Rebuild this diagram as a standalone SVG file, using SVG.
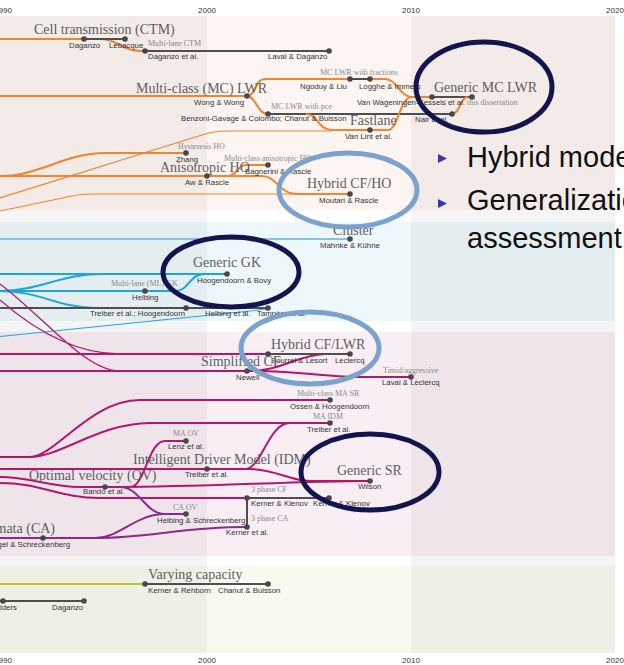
<svg xmlns="http://www.w3.org/2000/svg" width="624" height="665" viewBox="0 0 624 665">
<style>
.lbl{font-family:"Liberation Sans",Arial,sans-serif;font-size:7.8px;fill:#333}
.ttl{font-family:"Liberation Serif","Times New Roman",serif;font-size:14px;fill:#5e5e5e}
.sub{font-family:"Liberation Serif","Times New Roman",serif;font-size:8px;fill:#8a8a8a}
.ax{font-family:"Liberation Sans",Arial,sans-serif;font-size:8px;fill:#333;text-anchor:middle}
.dot{fill:#474747}
.o{stroke:#f0852d;fill:none;stroke-width:2}
.ot{stroke:#f0852d;fill:none;stroke-width:1.2}
.g{stroke:#4f4f4f;fill:none;stroke-width:2}
.b{stroke:#1ea6db;fill:none;stroke-width:2}
.bl{stroke:#80c6de;fill:none;stroke-width:2}
.bt{stroke:#1ea6db;fill:none;stroke-width:1.2}
.m{stroke:#b3176a;fill:none;stroke-width:2}
.mt{stroke:#b3176a;fill:none;stroke-width:1.3}
.p{stroke:#8c2a8c;fill:none;stroke-width:2}
.y{stroke:#b4c91c;fill:none;stroke-width:2}
.dk{fill:none;stroke:#14144f;stroke-width:5}
.lb{fill:none;stroke:#7aa2cd;stroke-width:5}
.slide{font-family:"Liberation Sans",Arial,sans-serif;font-size:29px;fill:#111}
</style>
<g id="background">
<rect x="0" y="0" width="624" height="665" fill="#fff"/>
<rect x="0" y="16" width="615" height="194" fill="#fcf5f1"/>
<rect x="0" y="222" width="615" height="99" fill="#eef8fa"/>
<rect x="0" y="332" width="615" height="224" fill="#f8eef4"/>
<rect x="0" y="566" width="615" height="87" fill="#f8faef"/>
<rect x="0" y="16" width="207" height="637" fill="#000" opacity="0.04"/>
<rect x="411" y="16" width="204" height="637" fill="#000" opacity="0.04"/>
<text class="ax" x="3" y="12.5">1990</text>
<text class="ax" x="207" y="12.5">2000</text>
<text class="ax" x="411" y="12.5">2010</text>
<text class="ax" x="615" y="12.5">2020</text>
<text class="ax" x="3" y="663">1990</text>
<text class="ax" x="207" y="663">2000</text>
<text class="ax" x="411" y="663">2010</text>
<text class="ax" x="615" y="663">2020</text>
</g>
<g id="connectors">
<path class="o" d="M0,39 H100 C118,39 122,51 140,51 H145"/>
<path class="o" d="M0,39 H84" stroke-width="3.5"/>
<path class="g" d="M84,39 H125 M145,51 H329"/>
<path class="o" d="M0,96 H247 M247,96 C256,96 255,79 265,79 H350 M370,79 H385 C397,79 400,97 412,97 H432"/>
<path class="g" d="M350,79 H370 M432,97 H472"/>
<path class="o" d="M247,96 C256,96 257,114 268,114"/>
<path class="g" d="M268,114 H452"/>
<path class="o" d="M306,114 C318,114 318,130 332,130 H370 M370,130 H388 C398,130 400,97 412,97 M452,114 C460,114 460,97 468,97"/>
<path class="ot" d="M0,198 L205,134 Q215,131 228,131 H332"/>
<path class="o" d="M0,176 H207" stroke-width="2.5"/>
<path class="o" d="M207,176 H262 C276,176 280,194 296,194 H350 M228,176 C237,176 237,165 246,165 H268 M0,176 C40,176 65,153 105,153 H186"/>
<path class="ot" d="M0,211 L72,196 Q80,194 92,194 H300"/>
<path class="bl" d="M0,239 H350"/>
<path class="b" d="M0,274 H227 M0,291 C40,291 60,274 100,274 M0,291 H176 C188,291 190,274 204,274 M0,291 C40,291 55,307 95,308"/>
<path class="g" d="M0,308 H268"/>
<path class="bt" d="M-5,337 L255,310.5 Q262,309 268,309"/>
<path class="mt" d="M0,300 C40,335 80,354 120,354 M0,284 C45,318 85,371 120,371"/>
<path class="m" d="M0,354 H268 M0,371 H247 M250,371 C280,371 298,355 325,354 M247,371 C300,371 330,377 360,377 H411"/>
<path class="g" d="M268,354 H350"/>
<path class="m" d="M0,457 H30 C55,457 90,400 140,400 H330 M30,457 C60,457 100,423 150,423 H330 M245,469 C262,469 268,423 290,423"/>
<path class="m" d="M0,469 H250 C275,469 290,481 310,481 H370"/>
<path class="m" d="M0,477 C30,477 50,487 80,487 H130 C145,487 148,441 165,441 H186 M120,487 C200,487 300,481 370,481"/>
<path class="m" d="M0,483 C40,483 60,498 100,498 H247"/>
<path class="g" d="M247,498 H329 M247,498 V527"/>
<path class="p" d="M120,487 C140,487 145,514 165,514 H186 M0,538 H95 C120,538 135,514 165,514 M95,538 C150,538 180,527 247,527"/>
<path class="y" d="M0,584 H145"/>
<path class="g" d="M145,584 H268 M0,601 H84"/>
</g>
<g id="ctm"><text class="ttl" x="34" y="34">Cell transmission (CTM)</text></g>
<g id="n-daganzo94"><circle class="dot" cx="84" cy="39" r="2.8"/><text class="lbl" x="69" y="47.5">Daganzo</text></g>
<g id="n-lebacque"><circle class="dot" cx="125" cy="39" r="2.8"/><text class="lbl" x="109" y="47.5">Lebacque</text></g>
<g id="n-daganzo-etal"><circle class="dot" cx="145" cy="51" r="2.8"/><text class="sub" x="148" y="45.5">Multi-lane CTM</text><text class="lbl" x="148" y="59">Daganzo et al.</text></g>
<g id="n-laval-daganzo"><circle class="dot" cx="329" cy="51" r="2.8"/><text class="lbl" x="268" y="59">Laval &amp; Daganzo</text></g>
<g id="mclwr"><text class="ttl" x="136" y="92.5">Multi-class (MC) LWR</text></g>
<g id="n-wong"><circle class="dot" cx="247" cy="96" r="2.8"/><text class="lbl" x="194" y="105">Wong &amp; Wong</text></g>
<g id="n-ngoduy"><circle class="dot" cx="350" cy="79" r="2.8"/><text class="sub" x="320" y="74.5">MC LWR with fractions</text><text class="lbl" x="300" y="89">Ngoduy &amp; Liu</text></g>
<g id="n-logghe"><circle class="dot" cx="370" cy="79" r="2.8"/><text class="lbl" x="359" y="89">Logghe &amp; Immers</text></g>
<g id="n-vwk"><circle class="dot" cx="432" cy="97" r="2.8"/><text class="lbl" x="357" y="105">Van Wageningen-Kessels et al.</text></g>
<g id="n-diss"><circle class="dot" cx="472" cy="97" r="2.8"/><text class="sub" x="467" y="105">this dissertation</text></g>
<g id="n-benzoni"><circle class="dot" cx="268" cy="114" r="2.8"/><text class="sub" x="271" y="108.5">MC LWR with pce</text><text class="lbl" x="181" y="121">Benzoni-Gavage &amp; Colombo; Chanut &amp; Buisson</text></g>
<g id="n-nair"><circle class="dot" cx="452" cy="114" r="2.8"/><text class="lbl" x="415" y="122">Nair et al.</text></g>
<g id="n-vanlint"><circle class="dot" cx="370" cy="130" r="2.8"/><text class="ttl" x="350" y="125">Fastlane</text><text class="lbl" x="345" y="139">Van Lint et al.</text></g>
<g id="generic-mclwr"><text class="ttl" x="434" y="91.5">Generic MC LWR</text></g>
<g id="n-zhang"><circle class="dot" cx="186" cy="153" r="2.8"/><text class="sub" x="178" y="148.5">Hysteresis HO</text><text class="lbl" x="176" y="162">Zhang</text></g>
<g id="aniso"><text class="ttl" x="160" y="172">Anisotropic HO</text></g>
<g id="n-aw"><circle class="dot" cx="207" cy="176" r="2.8"/><text class="lbl" x="185" y="185">Aw &amp; Rascle</text></g>
<g id="n-bagnerini"><circle class="dot" cx="268" cy="165" r="2.8"/><text class="sub" x="224" y="161">Multi-class anisotropic HO</text><text class="lbl" x="245" y="174">Bagnerini &amp; Rascle</text></g>
<g id="n-moutari"><circle class="dot" cx="350" cy="194" r="2.8"/><text class="ttl" x="307" y="188">Hybrid CF/HO</text><text class="lbl" x="319" y="203">Moutari &amp; Rascle</text></g>
<g id="n-mahnke"><circle class="dot" cx="350" cy="239" r="2.8"/><text class="ttl" x="333" y="235">Cluster</text><text class="lbl" x="320" y="248">Mahnke &amp; Kühne</text></g>
<g id="n-hoogendoorn-bovy"><circle class="dot" cx="227" cy="274" r="2.8"/><text class="ttl" x="193" y="267">Generic GK</text><text class="lbl" x="197" y="283">Hoogendoorn &amp; Bovy</text></g>
<g id="n-helbing"><circle class="dot" cx="145" cy="291" r="2.8"/><text class="sub" x="111" y="286">Multi-lane (ML) GK</text><text class="lbl" x="132" y="300">Helbing</text></g>
<g id="n-treiber-hoog"><circle class="dot" cx="186" cy="308" r="2.8"/><text class="lbl" x="90" y="316">Treiber et al.; Hoogendoorn</text></g>
<g id="n-helbing-tampere"><circle class="dot" cx="268" cy="308" r="2.8"/><text class="lbl" x="205" y="316">Helbing et al.</text><text class="lbl" x="257" y="316">Tampère et al.</text></g>
<g id="n-bourrel"><circle class="dot" cx="268" cy="354" r="2.8"/><text class="ttl" x="271" y="349">Hybrid CF/LWR</text><text class="lbl" x="271" y="363">Bourrel &amp; Lesort</text></g>
<g id="n-leclercq"><circle class="dot" cx="350" cy="354" r="2.8"/><text class="lbl" x="335" y="363">Leclercq</text></g>
<g id="n-newell"><circle class="dot" cx="247" cy="371" r="2.8"/><text class="ttl" x="201" y="366">Simplified CF</text><text class="lbl" x="236" y="380">Newell</text></g>
<g id="n-laval-leclercq"><circle class="dot" cx="411" cy="377" r="2.8"/><text class="sub" x="383" y="372.5">Timid/aggressive</text><text class="lbl" x="382" y="385">Laval &amp; Leclercq</text></g>
<g id="n-ossen"><circle class="dot" cx="330" cy="400" r="2.8"/><text class="sub" x="297" y="396">Multi-class MA SR</text><text class="lbl" x="290" y="409">Ossen &amp; Hoogendoorn</text></g>
<g id="n-treiber-maidm"><circle class="dot" cx="330" cy="423" r="2.8"/><text class="sub" x="313" y="419">MA IDM</text><text class="lbl" x="307" y="432">Treiber et al.</text></g>
<g id="n-lenz"><circle class="dot" cx="186" cy="441" r="2.8"/><text class="sub" x="173" y="436">MA OV</text><text class="lbl" x="168" y="449">Lenz et al.</text></g>
<g id="n-treiber-idm"><circle class="dot" cx="207" cy="469" r="2.8"/><text class="ttl" x="133" y="464">Intelligent Driver Model (IDM)</text><text class="lbl" x="185" y="477">Treiber et al.</text></g>
<g id="n-bando"><circle class="dot" cx="105" cy="487" r="2.8"/><text class="ttl" x="29" y="480">Optimal velocity (OV)</text><text class="lbl" x="83" y="494">Bando et al.</text></g>
<g id="n-wilson"><circle class="dot" cx="370" cy="481" r="2.8"/><text class="ttl" x="337" y="475">Generic SR</text><text class="lbl" x="358" y="489">Wilson</text></g>
<g id="n-kerner-klenov"><circle class="dot" cx="247" cy="498" r="2.8"/><text class="sub" x="251" y="492">3 phase CF</text><text class="lbl" x="251" y="506">Kerner &amp; Klenov</text></g>
<g id="n-kerner-klenov2"><circle class="dot" cx="329" cy="498" r="2.8"/><text class="lbl" x="313" y="506">Kerner &amp; Klenov</text></g>
<g id="n-kerner-etal"><circle class="dot" cx="247" cy="527" r="2.8"/><text class="sub" x="251" y="521">3 phase CA</text><text class="lbl" x="226" y="535">Kerner et al.</text></g>
<g id="n-helbing-schreck"><circle class="dot" cx="186" cy="514" r="2.8"/><text class="sub" x="173" y="510">CA OV</text><text class="lbl" x="157" y="523">Helbing &amp; Schreckenberg</text></g>
<g id="n-nagel"><circle class="dot" cx="43" cy="538" r="2.8"/><text class="ttl" x="55" y="533" text-anchor="end">Cellular automata (CA)</text><text class="lbl" x="70" y="547" text-anchor="end">Nagel &amp; Schreckenberg</text></g>
<g id="n-kerner-rehborn"><circle class="dot" cx="145" cy="584" r="2.8"/><text class="ttl" x="148" y="579">Varying capacity</text><text class="lbl" x="148" y="593">Kerner &amp; Rehborn</text></g>
<g id="n-chanut"><circle class="dot" cx="268" cy="584" r="2.8"/><text class="lbl" x="218" y="593">Chanut &amp; Buisson</text></g>
<g id="n-smulders"><circle class="dot" cx="3" cy="601" r="2.8"/><text class="lbl" x="-16" y="610">Smulders</text></g>
<g id="n-daganzo-vc"><circle class="dot" cx="84" cy="601" r="2.8"/><text class="lbl" x="52" y="610">Daganzo</text></g>
<g id="highlights">
<ellipse class="dk" cx="484" cy="87" rx="68" ry="45"/>
<ellipse class="lb" cx="348" cy="190" rx="69" ry="37"/>
<ellipse class="dk" cx="231" cy="272" rx="68" ry="35"/>
<ellipse class="lb" cx="310" cy="348" rx="69" ry="36"/>
<ellipse class="dk" cx="370" cy="472" rx="69" ry="38"/>
</g>
<g id="slide-text">
<polygon points="438,154 447,158.5 438,163" fill="#3434b4"/>
<polygon points="438,199 447,203.5 438,208" fill="#3434b4"/>
<text class="slide" x="467" y="167">Hybrid mode</text>
<text class="slide" x="467" y="210">Generalizatio</text>
<text class="slide" x="467" y="248">assessment</text>
</g>
</svg>
